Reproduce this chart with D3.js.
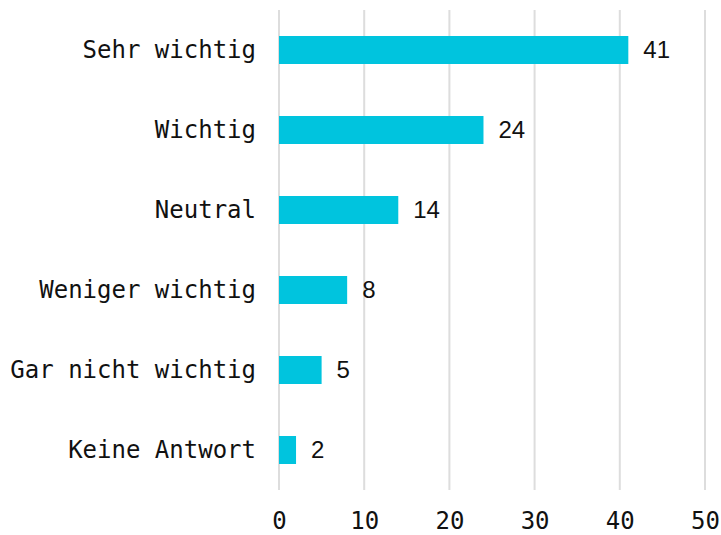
<!DOCTYPE html>
<html>
<head>
<meta charset="utf-8">
<script src="https://cdn.jsdelivr.net/npm/d3@7"></script>
<style>
  html, body { margin: 0; padding: 0; background: #ffffff; }
  svg { display: block; }
</style>
</head>
<body>
<svg id="chart" width="721" height="535"></svg>
<script>
// Antworten und Anzahl der Nennungen
const categories = ["Sehr wichtig", "Wichtig", "Neutral", "Weniger wichtig", "Gar nicht wichtig", "Keine Antwort"];
const counts = [41, 24, 14, 8, 5, 2];
const xTicks = [0, 10, 20, 30, 40, 50];

const data = categories.map((c, i) => ({ category: c, value: counts[i] }));

const svg = d3.select("#chart");
const margin = { left: 279, right: 16, top: 10, bottom: 45 };
const width = 721, height = 535;

const x = d3.scaleLinear().domain([0, 50]).range([margin.left, width - margin.right]);
const y = d3.scaleBand()
  .domain(categories)
  .range([margin.top, height - margin.bottom])
  .paddingInner(0.65)
  .paddingOuter(0.325);

const monoFont = "'DejaVu Sans Mono', 'Liberation Mono', monospace";
const sansFont = "'Liberation Sans', Arial, sans-serif";

// Vertikale Gitterlinien
svg.append("g")
  .selectAll("line")
  .data(xTicks)
  .join("line")
  .attr("x1", d => x(d)).attr("x2", d => x(d))
  .attr("y1", margin.top).attr("y2", height - margin.bottom)
  .attr("stroke", "#dddddd")
  .attr("stroke-width", 2);

// X-Achse
const xAxis = svg.append("g")
  .attr("transform", `translate(0,${height - margin.bottom})`)
  .call(d3.axisBottom(x).tickValues(xTicks).tickSize(0).tickPadding(22));
xAxis.select(".domain").remove();
xAxis.selectAll("text")
  .attr("font-family", monoFont)
  .attr("font-size", 24)
  .attr("fill", "#111");

// Y-Achse
const yAxis = svg.append("g")
  .attr("transform", `translate(${margin.left},0)`)
  .call(d3.axisLeft(y).tickSize(0).tickPadding(23));
yAxis.select(".domain").remove();
yAxis.selectAll("text")
  .attr("font-family", monoFont)
  .attr("font-size", 24)
  .attr("fill", "#111");

// Balken
svg.append("g")
  .selectAll("rect")
  .data(data)
  .join("rect")
  .attr("x", x(0))
  .attr("y", d => y(d.category))
  .attr("width", d => x(d.value) - x(0))
  .attr("height", y.bandwidth())
  .attr("fill", "#00c4de");

// Wertbeschriftungen
svg.append("g")
  .selectAll("text")
  .data(data)
  .join("text")
  .attr("x", d => x(d.value) + 15)
  .attr("y", d => y(d.category) + y.bandwidth() / 2)
  .attr("dy", "0.35em")
  .attr("font-family", sansFont)
  .attr("font-size", 24)
  .attr("fill", "#111")
  .text(d => d.value);
</script>
</body>
</html>
